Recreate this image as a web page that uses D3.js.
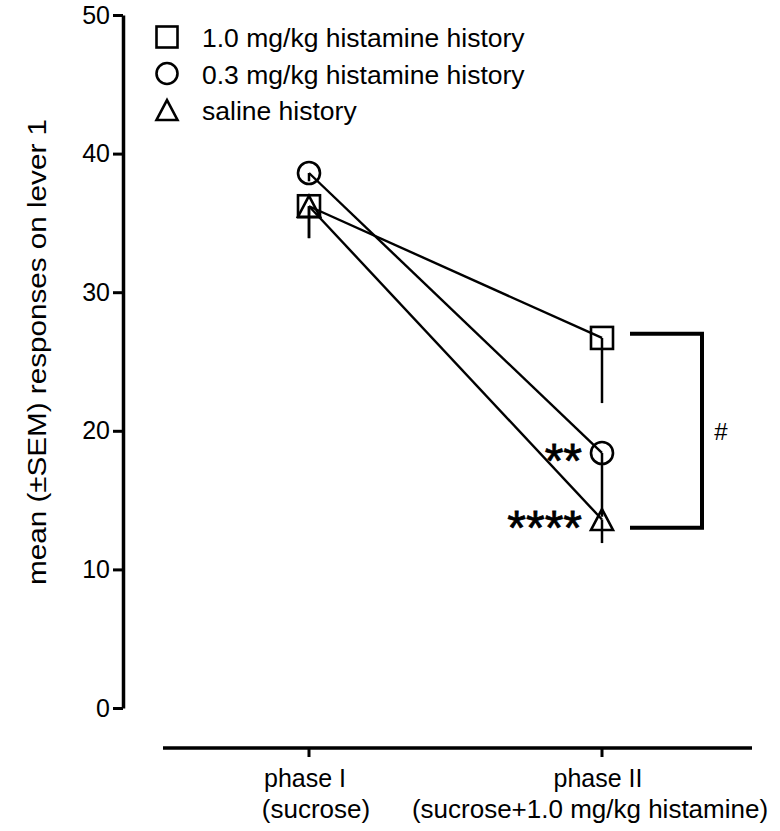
<!DOCTYPE html>
<html>
<head>
<meta charset="utf-8">
<script src="https://cdn.jsdelivr.net/npm/d3@7"></script>
<style>
  html, body { margin: 0; padding: 0; background: #fff; }
  svg { display: block; font-family: "Liberation Sans", Arial, sans-serif; }
</style>
</head>
<body>
<svg id="chart" width="780" height="831"></svg>
<script>
// Phases on the x axis
const phases = ["phase I", "phase II"];
const phaseSub = ["(sucrose)", "(sucrose+1.0 mg/kg histamine)"];

// Group names (legend order) and marker shapes
const groups = ["1.0 mg/kg histamine history", "0.3 mg/kg histamine history", "saline history"];
const shapes = ["square", "circle", "triangle"];

// Mean responses per group at phase I and phase II
const meanHist10 = [36.2, 26.7];
const meanHist03 = [38.6, 18.4];
const meanSaline = [36.2, 13.6];

// SEM per group at phase I and phase II (drawn downward only)
const semHist10 = [2.3, 4.7];
const semHist03 = [0.6, 4.6];
const semSaline = [2.3, 1.7];

// Y axis ticks
const yTicks = [0, 10, 20, 30, 40, 50];

// Significance marks next to phase II points
const sigMarks = [null, "**", "****"];

// Bracket comparing 1.0 mg/kg history with saline history at phase II
const bracketRange = [27.0, 13.0];
const bracketLabel = "#";

const means = [meanHist10, meanHist03, meanSaline];
const sems = [semHist10, semHist03, semSaline];

const svg = d3.select("#chart");

const y = d3.scaleLinear().domain([0, 50]).range([708, 15]);
const x = d3.scalePoint().domain(phases).range([309, 602]);

// Y axis
const yAxis = d3.axisLeft(y).tickValues(yTicks).tickSize(10).tickPadding(3).tickSizeOuter(0);
const gy = svg.append("g").attr("transform", "translate(123,0)").call(yAxis);
gy.select(".domain").attr("stroke", "#000").attr("stroke-width", 3.5);
gy.selectAll(".tick line").attr("stroke", "#000").attr("stroke-width", 3);
gy.selectAll(".tick text").attr("font-size", 25).attr("fill", "#000")
  .attr("font-family", "Liberation Sans, Arial, sans-serif");

// X axis (offset below the plot)
const xAxisY = 748;
const gx = svg.append("g").attr("transform", `translate(0,${xAxisY})`);
gx.append("line").attr("x1", 163).attr("x2", 752).attr("stroke", "#000").attr("stroke-width", 3.5);
gx.selectAll("line.tick").data(phases).enter().append("line")
  .attr("class", "tick")
  .attr("x1", d => x(d)).attr("x2", d => x(d)).attr("y1", 0).attr("y2", 9)
  .attr("stroke", "#000").attr("stroke-width", 3);
gx.selectAll("text.l1").data(phases).enter().append("text")
  .attr("class", "l1")
  .attr("x", d => x(d) - 4).attr("y", 39).attr("text-anchor", "middle")
  .attr("font-size", 25).text(d => d);
const subShift = [7, -12];
gx.selectAll("text.l2").data(phaseSub).enter().append("text")
  .attr("class", "l2")
  .attr("x", (d, i) => x(phases[i]) + subShift[i]).attr("y", 70).attr("text-anchor", "middle")
  .attr("font-size", 26).text(d => d);

// Y axis title
svg.append("text")
  .attr("transform", "translate(46,352) rotate(-90)")
  .attr("text-anchor", "middle").attr("font-size", 26)
  .attr("textLength", 466).attr("lengthAdjust", "spacingAndGlyphs")
  .text("mean (\u00B1SEM) responses on lever 1");

// Error bars (downward only)
means.forEach((m, gi) => {
  m.forEach((v, pi) => {
    svg.append("line")
      .attr("x1", x(phases[pi])).attr("x2", x(phases[pi]))
      .attr("y1", y(v)).attr("y2", y(v - sems[gi][pi]))
      .attr("stroke", "#000").attr("stroke-width", 2.5);
  });
});

// Connecting lines
const line = d3.line().x((d, i) => x(phases[i])).y(d => y(d));
means.forEach(m => {
  svg.append("path").attr("d", line(m)).attr("fill", "none")
    .attr("stroke", "#000").attr("stroke-width", 2.4);
});

// Marker drawing
function marker(g, shape, cx, cy, s) {
  if (shape === "square") {
    g.append("rect").attr("x", cx - s / 2).attr("y", cy - s / 2)
      .attr("width", s).attr("height", s);
  } else if (shape === "circle") {
    g.append("circle").attr("cx", cx).attr("cy", cy).attr("r", s / 2);
  } else {
    const h = s * 0.95;
    g.append("path").attr("d",
      `M${cx},${cy - h / 2}L${cx + s / 2},${cy + h / 2}L${cx - s / 2},${cy + h / 2}Z`);
  }
}

const markers = svg.append("g").attr("fill", "none").attr("stroke", "#000").attr("stroke-width", 2.6);
means.forEach((m, gi) => {
  m.forEach((v, pi) => {
    marker(markers, shapes[gi], x(phases[pi]), y(v), 22);
  });
});

// Significance asterisks
sigMarks.forEach((s, gi) => {
  if (!s) return;
  svg.append("text")
    .attr("x", x(phases[1]) - 20).attr("y", y(means[gi][1]) + 24)
    .attr("text-anchor", "end").attr("font-size", 48)
    .attr("stroke", "#000").attr("stroke-width", 0.8)
    .text(s);
});

// Bracket
const bx1 = 630, bx2 = 702;
svg.append("path")
  .attr("d", `M${bx1},${y(bracketRange[0])}H${bx2}V${y(bracketRange[1])}H${bx1}`)
  .attr("fill", "none").attr("stroke", "#000").attr("stroke-width", 4);
svg.append("text")
  .attr("x", 721).attr("y", (y(bracketRange[0]) + y(bracketRange[1])) / 2 + 9)
  .attr("text-anchor", "middle").attr("font-size", 24).text(bracketLabel);

// Legend
const legend = svg.append("g");
groups.forEach((gname, i) => {
  const cy = 37 + i * 36.5;
  const mg = legend.append("g").attr("fill", "none").attr("stroke", "#000").attr("stroke-width", 2.6);
  marker(mg, shapes[i], 167, cy, 21);
  legend.append("text").attr("x", 202).attr("y", cy + 10).attr("font-size", 26.5).text(gname);
});
</script>
</body>
</html>
